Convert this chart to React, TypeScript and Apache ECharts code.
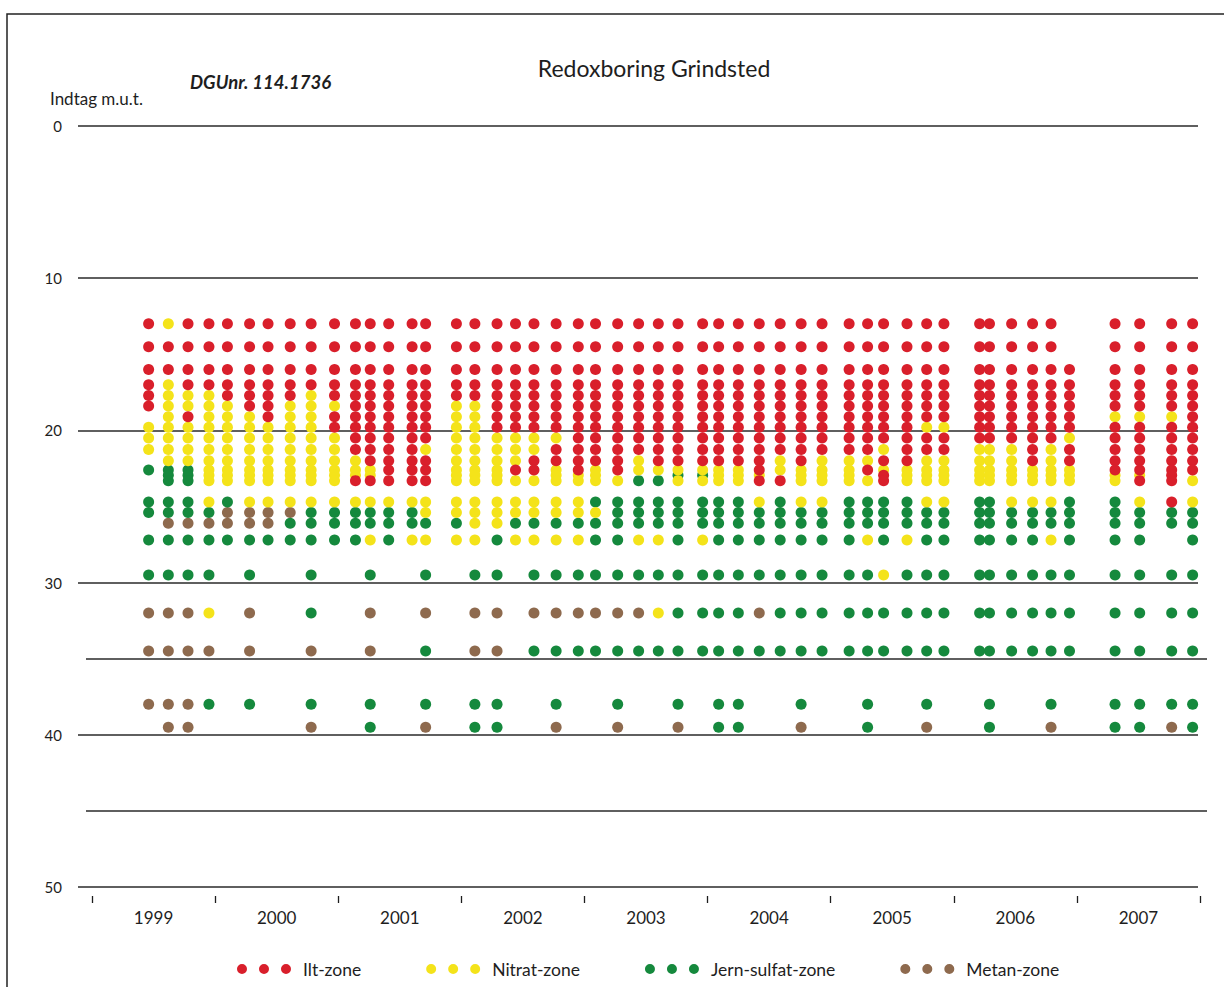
import React, { useEffect, useRef } from 'react';
import * as echarts from 'echarts';

// Sampling dates (decimal years) of the redox campaigns
const sampleTimes = [
  1999.46, 1999.62, 1999.78, 1999.95, 2000.1, 2000.28, 2000.43, 2000.61, 2000.78, 2000.97,
  2001.14, 2001.26, 2001.41, 2001.6, 2001.71, 2001.96, 2002.11, 2002.29, 2002.44, 2002.59,
  2002.77, 2002.95, 2003.09, 2003.27, 2003.44, 2003.6, 2003.76, 2003.96, 2004.09, 2004.25,
  2004.42, 2004.59, 2004.76, 2004.93, 2005.15, 2005.3, 2005.43, 2005.62, 2005.78, 2005.92,
  2006.21, 2006.29, 2006.47, 2006.64, 2006.79, 2006.94, 2007.31, 2007.51, 2007.77, 2007.94,
];

// Intake depths (m below surface)
const depthLevels = [
  13.0, 14.5, 16.0, 17.0, 17.7, 18.4, 19.1, 19.8, 20.5, 21.25, 22.0, 22.6, 22.95, 23.3,
  24.7, 25.4, 26.1, 27.2, 29.5, 32.0, 34.5, 38.0, 39.5,
];

// One string per sampling date, one character per depth level
// R = Ilt, Y = Nitrat, G = Jern-sulfat, B = Metan, . = no sample
const zoneCodes = [
  'RRRRRR.YYY.G..GG.G' + 'GBBB.',
  'YRRYYYYYYYYGGGGGBG' + 'GBBBB',
  'RRRRYYRYYYYGGGGGBG' + 'GBBBB',
  'RRRRYYYYYYYYYYYGBG' + 'GYBG.',
  'RRRRRYYYYYYYYYGBBG' + '.....',
  'RRRRRRYYYYYYYYYBBG' + 'GBBG.',
  'RRRRRRRYYYYYYYYBBG' + '.....',
  'RRRRRYYYYYYYYYYBGG' + '.....',
  'RRRRYYYYYYYYYYYGGG' + 'GGBGB',
  'RRRRRYRRYYYYYYYGGG' + '.....',
  'RRRRRRRRRRYYYRYGGG' + '.....',
  'RRRRRRRRRRRYYRYGGY' + 'GBBGG',
  'RRRRRRRRRRRR.RYGGG' + '.....',
  'RRRRRRRRRRRR.RYGGY' + '.....',
  'RRRRRRRRRYRR.RYYGY' + 'GBGGB',
  'RRRRRYYYYYYYYYYYGY' + '.....',
  'RRRRRYYYYYYYYYYYYY' + 'GBBGG',
  'RRRRRRRRYYYYYYYYYG' + 'GBBGG',
  'RRRRRRRRYYYR.YYYGY' + '.....',
  'RRRRRRRRYYRR.YYYGY' + 'GBG..',
  'RRRRRRRRYRRYYYYYGY' + 'GBGGB',
  'RRRRRRRRRRRRYYYYGY' + 'GBG..',
  'RRRRRRRRRRRYYYGYGG' + 'GBG..',
  'RRRRRRRRRRRR.YGGGG' + 'GBGGB',
  'RRRRRRRRRRYY.GGGGY' + 'GBG..',
  'RRRRRRRRRRRY.GGGGY' + 'GYG..',
  'RRRRRRRRRRRYGYGGGG' + 'GGGGB',
  'RRRRRRRRRRRYGYGGGY' + 'GGG..',
  'RRRRRRRRRRRYYYGGGG' + 'GGGGG',
  'RRRRRRRRRRRYYYGGGG' + 'GGGGG',
  'RRRRRRRRRRRRYRYGGG' + 'GBG..',
  'RRRRRRRRRRYY.RGGGG' + 'GGG..',
  'RRRRRRRRRRRYYYYGGG' + 'GGGGB',
  'RRRRRRRRRRYYYYYGGG' + 'GGG..',
  'RRRRRRRRRRYYYYGGGG' + 'GGG..',
  'RRRRRRRRRRYR.YGGGY' + 'GGGGG',
  'RRRRRRRRRYRYRRGGGG' + 'YGG..',
  'RRRRRRRRRRRYYYGGGY' + 'GGG..',
  'RRRRRRRYRRYYYYYGGG' + 'GGGGB',
  'RRRRRRRYRRYYYYYGGG' + 'GGG..',
  'RRRRRRRRRYYYYYGGGG' + 'GGG..',
  'RRRRRRRRRYYYYYGGGG' + 'GGGGG',
  'RRRRRRRRRYYYYYYGGG' + 'GGG..',
  'RRRRRRRRRRRYYYYGGG' + 'GGG..',
  'RRRRRRRRRYYYYYYGGY' + 'GGGGB',
  '..RRRRRRYRRYYYGGGG' + 'GGG..',
  'RRRRRRYRRRRRYYGGGG' + 'GGGGG',
  'RRRRRRYRRRRRYRYGGG' + 'GGGGG',
  'RRRRRRYRRRRRRRRGG.' + 'GGGGB',
  'RRRRRRRRRRRR.YYGGG' + 'GGGGG',
];

const zoneKeys = ['R', 'Y', 'G', 'B'];
const zoneNames = ['Ilt-zone', 'Nitrat-zone', 'Jern-sulfat-zone', 'Metan-zone'];
const yearLabels = ['1999', '2000', '2001', '2002', '2003', '2004', '2005', '2006', '2007'];
const boundaryDepths = [35, 45];

const zoneColors = ['#d91f2b', '#f4e31a', '#15893d', '#8e6a4e'];
const FONT = 'Lato, "Open Sans", sans-serif';
const INK = '#1e1e1e';
const LEGEND_ICON =
  'path://M0,5a5,5 0 1,0 10,0a5,5 0 1,0 -10,0zM22,5a5,5 0 1,0 10,0a5,5 0 1,0 -10,0zM44,5a5,5 0 1,0 10,0a5,5 0 1,0 -10,0z';

function buildZoneData(key: string) {
  const pts: number[][] = [];
  zoneCodes.forEach((codes, i) => {
    for (let j = 0; j < depthLevels.length; j++) {
      if (codes[j] === key) pts.push([sampleTimes[i], depthLevels[j]]);
    }
  });
  return pts;
}

export default function App() {
  const ref = useRef<HTMLDivElement>(null);

  useEffect(() => {
    document.body.style.margin = '0';
    if (!ref.current) return;
    const chart = echarts.init(ref.current, undefined, { renderer: 'svg' });

    const zoneSeries = zoneKeys.map((key, k) => ({
      name: zoneNames[k],
      type: 'scatter',
      xAxisIndex: 1,
      yAxisIndex: 1,
      symbol: 'circle',
      symbolSize: 11,
      z: 10 - k,
      itemStyle: { color: zoneColors[k], opacity: 1 },
      emphasis: { disabled: true },
      data: buildZoneData(key),
    }));

    chart.setOption({
      animation: false,
      backgroundColor: '#ffffff',
      textStyle: { fontFamily: FONT },
      title: [
        {
          text: 'Redoxboring Grindsted',
          left: 654,
          top: 56,
          textAlign: 'center',
          padding: 0,
          textStyle: { fontSize: 23, fontWeight: 'normal', color: INK, fontFamily: FONT },
        },
        {
          text: 'DGUnr. 114.1736',
          left: 190,
          top: 72,
          padding: 0,
          textStyle: { fontSize: 18.5, fontWeight: 'bold', fontStyle: 'italic', color: INK, fontFamily: FONT },
        },
        {
          text: 'Indtag m.u.t.',
          left: 50,
          top: 90,
          padding: 0,
          textStyle: { fontSize: 17, fontWeight: 'normal', color: INK, fontFamily: FONT },
        },
      ],
      legend: {
        data: zoneNames,
        left: 237,
        top: 960,
        padding: 0,
        itemGap: 65,
        itemWidth: 54,
        itemHeight: 10,
        icon: LEGEND_ICON,
        selectedMode: false,
        textStyle: { fontSize: 17.5, color: INK, fontFamily: FONT, padding: [0, 0, 0, 7] },
      },
      grid: [
        { left: 78, right: 26, top: 126, height: 761 },
        { left: 92, right: 24, top: 126, height: 761 },
        { left: 86, right: 17, top: 126, height: 761 },
      ],
      xAxis: [
        { gridIndex: 0, type: 'value', min: 0, max: 1, show: false },
        {
          gridIndex: 1,
          type: 'value',
          min: 1999,
          max: 2008,
          interval: 1,
          position: 'bottom',
          offset: 9,
          axisLine: { show: false, onZero: false },
          axisTick: { show: true, length: 7, lineStyle: { color: INK, width: 1.3 } },
          axisLabel: { show: false },
          splitLine: { show: false },
        },
        {
          gridIndex: 1,
          type: 'category',
          data: yearLabels,
          position: 'bottom',
          offset: 9,
          boundaryGap: true,
          axisLine: { show: false, onZero: false },
          axisTick: { show: false },
          axisLabel: { margin: 13, fontSize: 17, color: INK, fontFamily: FONT },
          splitLine: { show: false },
        },
        { gridIndex: 2, type: 'value', min: 0, max: 1, show: false },
      ],
      yAxis: [
        {
          gridIndex: 0,
          type: 'value',
          inverse: true,
          min: 0,
          max: 50,
          interval: 10,
          axisLine: { show: false },
          axisTick: { show: false },
          axisLabel: { margin: 16, fontSize: 15, color: INK, fontFamily: FONT },
          splitLine: { show: true, lineStyle: { color: '#2a2a2a', width: 1.5 } },
        },
        { gridIndex: 1, type: 'value', inverse: true, min: 0, max: 50, show: false },
        { gridIndex: 2, type: 'value', inverse: true, min: 0, max: 50, show: false },
      ],
      graphic: [
        {
          type: 'rect',
          shape: { x: 7, y: 14, width: 1240, height: 1000 },
          style: { fill: 'none', stroke: '#222', lineWidth: 1.5 },
          silent: true,
        },
      ],
      series: [
        ...zoneSeries,
        {
          type: 'line',
          xAxisIndex: 3,
          yAxisIndex: 2,
          data: [],
          silent: true,
          markLine: {
            silent: true,
            symbol: ['none', 'none'],
            label: { show: false },
            lineStyle: { color: '#2a2a2a', width: 1.5, type: 'solid' },
            emphasis: { disabled: true },
            data: boundaryDepths.map((d) => ({ yAxis: d })),
          },
        },
      ],
    });

    return () => chart.dispose();
  }, []);

  return (
    <div
      ref={ref}
      style={{ position: 'absolute', left: 0, top: 0, width: 1224, height: 987, background: '#fff' }}
    />
  );
}
